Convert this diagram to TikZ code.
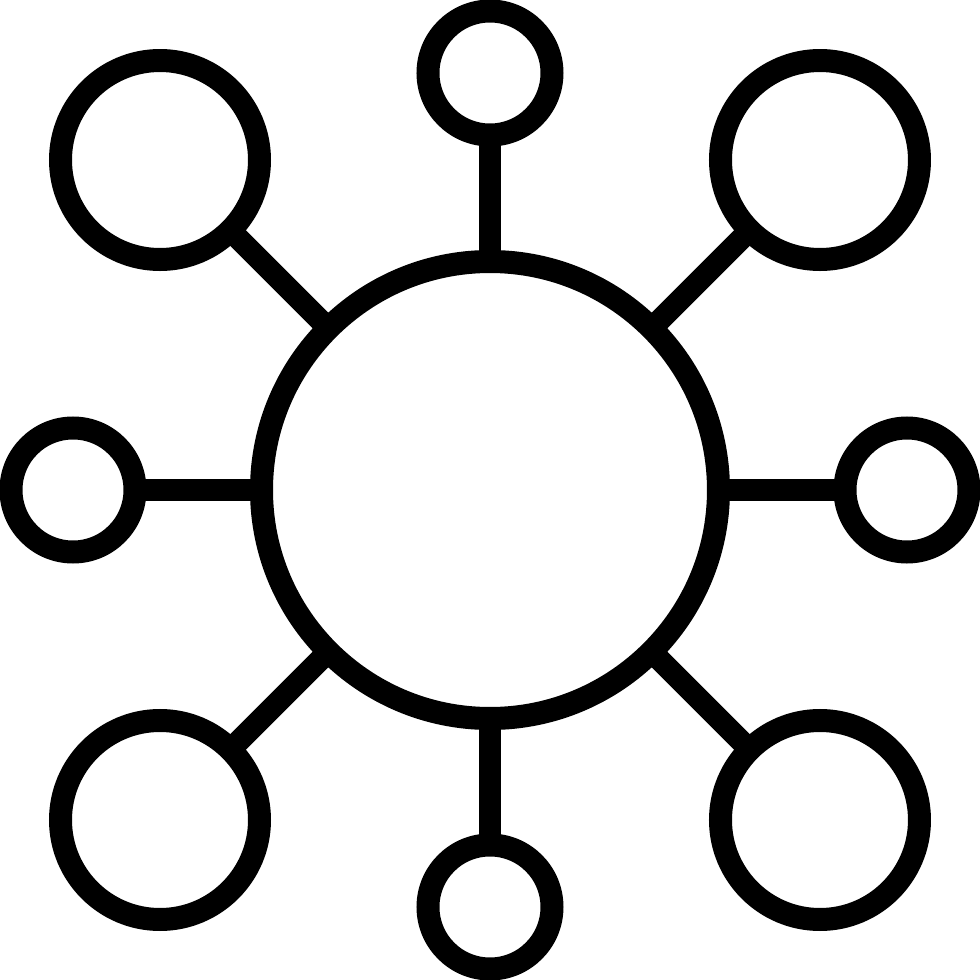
\documentclass[tikz,border=0pt]{standalone}
\usepackage{tikz}
\usetikzlibrary{positioning}
\tikzset{
  ring/.style={circle, draw=black, line width=0.23cm, inner sep=0pt, outer sep=0pt, fill=white},
  hubring/.style={ring, minimum size=4.57cm},
  smallring/.style={ring, minimum size=1.24cm},
  bigring/.style={ring, minimum size=1.99cm},
  spoke/.style={draw=black, line width=0.22cm}
}

\begin{document}
\begin{tikzpicture}
    \useasboundingbox (0,0) rectangle (9.8,9.8);
    \node[hubring] (hub) at (4.9,4.9) {};

    % small satellites on the axes
    \node[smallring] (north) at (4.9,9.07) {};
    \node[smallring] (south) at (4.9,0.73) {};
    \node[smallring] (west) at (0.73,4.9) {};
    \node[smallring] (east) at (9.07,4.9) {};

    % large satellites in the corners
    \node[bigring] (nw) at (1.6,8.2) {};
    \node[bigring] (ne) at (8.2,8.2) {};
    \node[bigring] (sw) at (1.6,1.6) {};
    \node[bigring] (se) at (8.2,1.6) {};

    \foreach \sat in {north,south,west,east,nw,ne,sw,se}
      \draw[spoke] (hub) -- (\sat);
\end{tikzpicture}
\end{document}
